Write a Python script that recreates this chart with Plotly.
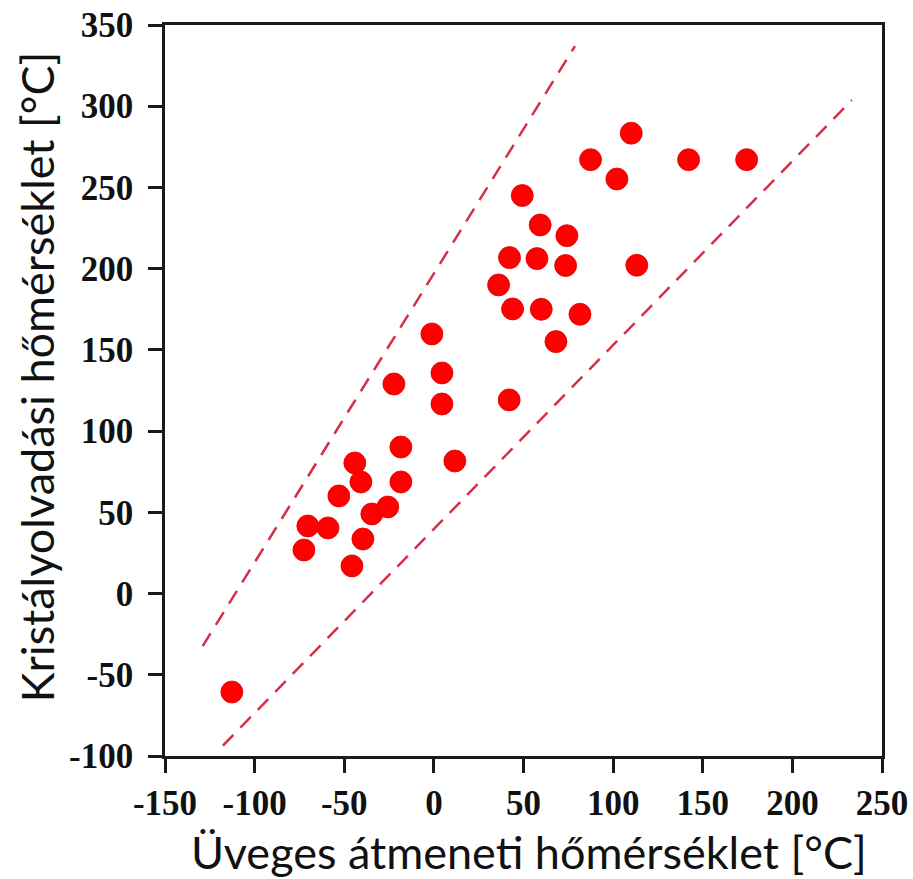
import plotly.graph_objects as go

# Glass transition temperature (x) and crystal melting temperature (y), °C
tg = [-112.7, -72.5, -70.3, -59.1, -53.0, -44.1, -40.7, -45.7, -39.6, -34.6,
      -25.7, -22.3, -18.4, -18.4, -1.1, 4.5, 4.5, 11.7, 36.1, 42.2,
      42.0, 43.9, 49.3, 57.5, 59.3, 59.9, 74.2, 73.5, 68.1, 81.5,
      87.4, 102.1, 110.1, 113.2, 142.1, 174.5]
tm = [-60.6, 26.8, 41.6, 40.4, 60.1, 80.4, 68.7, 17.0, 33.6, 49.0,
      53.3, 129.0, 90.2, 68.7, 159.8, 135.8, 116.7, 81.6, 190.0, 206.8,
      119.2, 175.2, 245.0, 206.2, 226.9, 175.0, 220.3, 201.9, 155.1, 171.9,
      267.1, 255.2, 283.4, 202.1, 267.1, 267.1]

# Guide (bounding) lines endpoints
upper_x = [-129.0, 78.7]
upper_y = [-32.4, 337.0]
lower_x = [-117.7, 233.2]
lower_y = [-93.6, 303.8]

x_ticks = [-150, -100, -50, 0, 50, 100, 150, 200, 250]
y_ticks = [-100, -50, 0, 50, 100, 150, 200, 250, 300, 350]

dash_color = "rgb(214,48,72)"
fig = go.Figure()
fig.add_trace(go.Scatter(x=upper_x, y=upper_y, mode="lines",
                         line=dict(color=dash_color, width=2.5, dash="15px,10px"),
                         showlegend=False, hoverinfo="skip"))
fig.add_trace(go.Scatter(x=lower_x, y=lower_y, mode="lines",
                         line=dict(color=dash_color, width=2.5, dash="15px,10px"),
                         showlegend=False, hoverinfo="skip"))
fig.add_trace(go.Scatter(x=tg, y=tm, mode="markers",
                         marker=dict(color="#ff0000", size=22,
                                     line=dict(width=0.8, color="#e00000")),
                         showlegend=False))

tickfont = dict(family="Liberation Serif", size=35, color="#111", weight="bold")
fig.update_xaxes(range=[-150, 250], tickvals=x_ticks, ticktext=[str(v) for v in x_ticks],
                 showgrid=False, zeroline=False, showline=True, mirror=True,
                 linecolor="#1a1a1a", linewidth=2.5, ticks="outside", ticklen=14,
                 tickwidth=2.5, tickcolor="#1a1a1a", tickfont=tickfont,
                 ticklabelstandoff=0, automargin=False)
fig.update_yaxes(range=[-100, 350], tickvals=y_ticks, ticktext=[str(v) for v in y_ticks],
                 showgrid=False, zeroline=False, showline=True, mirror=True,
                 linecolor="#1a1a1a", linewidth=2.5, ticks="outside", ticklen=14,
                 tickwidth=2.5, tickcolor="#1a1a1a", tickfont=tickfont,
                 ticklabelstandoff=8, automargin=False)

fig.update_layout(
    width=913, height=879,
    margin=dict(l=165, r=31, t=25, b=123),
    plot_bgcolor="white", paper_bgcolor="white",
    font=dict(family="Liberation Serif"),
    annotations=[
        dict(text="Üveges átmeneti hőmérséklet [°C]", xref="paper", yref="paper",
             x=0.507, y=-0.131, showarrow=False, xanchor="center", yanchor="middle",
             font=dict(family="Lato", size=45, color="#111")),
        dict(text="Kristályolvadási hőmérséklet [°C]", xref="paper", yref="paper",
             x=-0.1785, y=0.518, showarrow=False, xanchor="center", yanchor="middle",
             textangle=-90, font=dict(family="Lato", size=45, color="#111")),
    ],
)

fig.write_html("out.html")
